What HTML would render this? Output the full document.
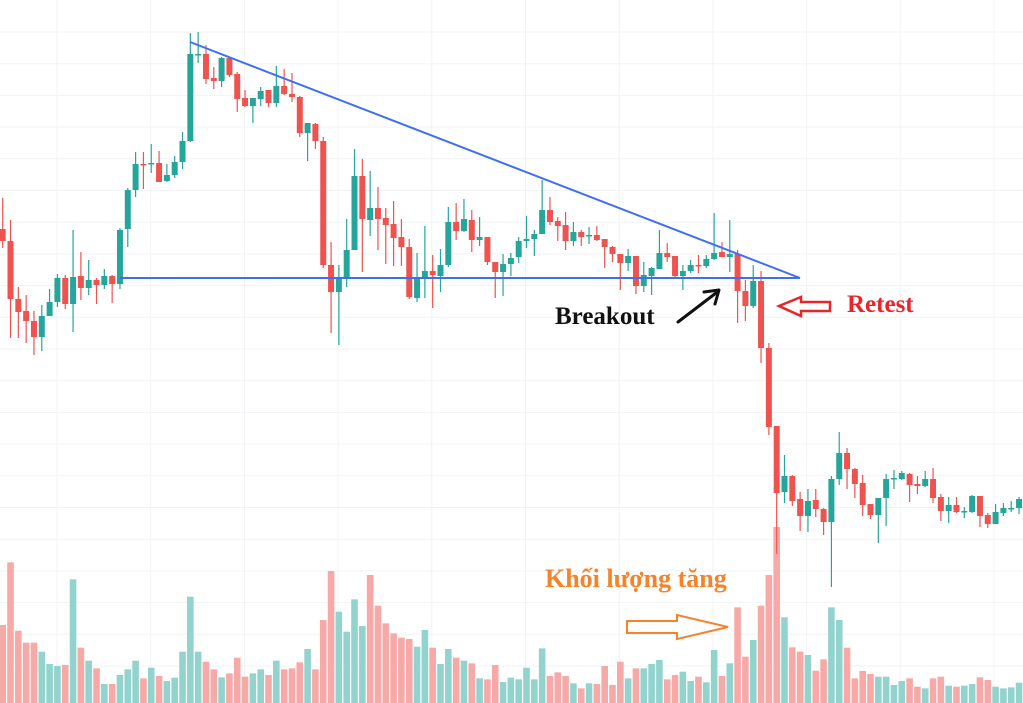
<!DOCTYPE html>
<html><head><meta charset="utf-8"><style>
html,body{margin:0;padding:0;background:#fff;width:1023px;height:703px;overflow:hidden}
svg text{font-family:"Liberation Serif",serif;font-weight:bold}
</style></head><body>
<svg id="s" width="1023" height="703" viewBox="0 0 1023 703" xmlns="http://www.w3.org/2000/svg">
<g id="grid" stroke="#f1f3f6" stroke-width="1"></g>
<g id="vol"></g>
<g id="cs"></g>
<line x1="190" y1="42" x2="800" y2="278" stroke="#3d6ff0" stroke-width="2"/>
<line x1="120" y1="278" x2="800" y2="278" stroke="#3d6ff0" stroke-width="2"/>
<text x="555" y="324" font-size="25" fill="#111">Breakout</text>
<line x1="678" y1="322" x2="716" y2="293" stroke="#111" stroke-width="3" stroke-linecap="round"/>
<polyline points="704,292 719,290 715,304" fill="none" stroke="#111" stroke-width="3" stroke-linecap="round" stroke-linejoin="round"/>
<polygon points="779,306 801,297 801,302 830,302 830,311 801,311 801,316" fill="#fff" stroke="#e8262a" stroke-width="2.5"/>
<text x="847" y="312" font-size="25" fill="#e8262a">Retest</text>
<text x="545" y="587" font-size="26" fill="#f5832a">Khối lượng tăng</text>
<polygon points="627,621 677,621 677,615 728,627 677,639 677,633 627,633" fill="#fff" stroke="#f5832a" stroke-width="2"/>
</svg>
<script>
var C=[[229,241,198,248],[241,299,220,338],[299,312,287,338],[311,321,295,343],[321,337,311,355],[337,316,305,351],[316,302,289,316],[302,278,274,307],[278,304,275,309],[304,277,230,332],[276,288,252,300],[288,280,260,295],[280,285,278,304],[285,276,269,289],[276,284,275,303],[284,230,228,289],[229,190,188,247],[190,164,152,197],[164,165,152,189],[164,163,144,173],[163,182,151,182],[181,175,164,182],[175,162,156,178],[162,141,132,169],[141,54,33,142],[55,54,32,63],[54,79,45,84],[78,81,67,89],[81,58,57,87],[58,75,57,77],[74,99,72,112],[98,106,90,107],[106,98,98,123],[99,91,87,106],[90,103,90,107],[103,86,66,107],[86,94,69,95],[94,97,73,102],[97,133,96,137],[133,123,123,161],[124,141,123,149],[141,265,137,268],[265,292,242,333],[292,277,265,345],[277,250,219,287],[250,176,149,250],[176,219,159,272],[220,208,171,236],[208,219,187,250],[218,225,208,264],[224,238,201,266],[237,247,219,266],[247,297,239,299],[298,278,253,302],[278,271,226,298],[271,275,255,308],[276,265,249,292],[265,222,207,267],[222,231,203,240],[231,219,199,232],[220,240,210,252],[240,237,217,246],[237,262,237,265],[262,272,262,298],[272,264,254,296],[264,258,253,276],[257,241,237,263],[241,239,216,248],[239,234,230,256],[234,210,180,234],[210,222,197,225],[221,226,217,241],[225,241,212,250],[241,232,222,246],[232,237,230,246],[236,235,227,244],[235,240,226,241],[239,247,239,268],[247,254,246,262],[254,263,254,290],[263,256,249,271],[256,286,256,294],[286,275,262,292],[276,268,267,295],[269,253,230,269],[253,257,243,262],[256,276,256,278],[276,271,265,290],[271,265,260,273],[265,266,255,273],[266,259,255,268],[259,253,213,260],[252,257,242,257],[257,254,220,272],[254,291,250,323],[291,306,280,321],[306,281,265,308],[281,348,271,363],[348,427,343,435],[426,493,426,554],[492,476,455,503],[476,501,475,506],[499,516,492,531],[516,501,489,532],[500,509,489,517],[509,522,508,535],[522,479,476,587],[479,453,432,485],[453,469,448,489],[469,484,468,498],[483,505,475,516],[504,515,504,519],[515,498,498,543],[498,479,474,526],[479,478,470,489],[479,473,471,480],[474,485,473,502],[484,486,476,494],[486,479,471,487],[479,498,468,503],[497,511,494,521],[511,505,497,523],[505,512,497,513],[512,511,507,518],[512,496,495,513],[496,516,496,527],[515,524,513,528],[524,512,504,524],[513,508,503,516],[509,508,501,512],[508,499,497,514]];
var V=["R255","R67","R272","R308","R308","G335","G372","G378","R375","G118","R323","G362","R385","G432","R432","G405","G388","G362","R415","G383","R408","G423","G413","G335","G170","G335","R365","R388","G412","R400","R353","R410","G400","G388","R405","G362","R388","R385","R367","G327","R388","R240","R93","G215","G275","G178","G258","R105","R197","R250","R280","R293","R297","G320","G270","R323","G372","G327","R353","G362","R370","G415","R418","R375","G426","G413","G418","G383","G418","G325","R408","R397","R408","G430","R445","G430","R432","R378","R435","R365","G415","R385","G385","G372","G360","R418","R405","G395","G423","R410","G427","G330","R408","G370","R202","R350","G300","R197","R105","R-39","G232","R322","R335","G345","R392","R358","G202","G240","R323","R415","R393","R402","G410","G410","G435","G423","R415","R440","G445","R415","R410","G437","R440","G437","G432","R412","R420","G440","G445","G442","G428"];
var ns="http://www.w3.org/2000/svg";
function el(p,t,a){var e=document.createElementNS(ns,t);for(var k in a)e.setAttribute(k,a[k]);p.appendChild(e);return e;}
var g=document.getElementById('grid');
for(var x=57;x<1023;x+=93.7)el(g,'line',{x1:x,y1:0,x2:x,y2:703});
for(var y=32;y<703;y+=31.7)el(g,'line',{x1:0,y1:y,x2:1023,y2:y});
var sp=7.818,x0=2.7;
var vg=document.getElementById('vol');
V.forEach(function(v,i){var top=540+parseInt(v.slice(1))/3;var cx=x0+i*sp;
el(vg,'rect',{x:cx-3.3,y:top,width:6.6,height:703-top,fill:v[0]=='G'?'#93d3cd':'#f7a9a7'});});
var cg=document.getElementById('cs');
C.forEach(function(c,i){var cx=x0+i*sp;var col=c[1]<c[0]?'#26a69a':'#ef5350';
el(cg,'line',{x1:cx,y1:c[2],x2:cx,y2:c[3],stroke:col,'stroke-width':1.2});
var t=Math.min(c[0],c[1]),b=Math.max(c[0],c[1]);if(b-t<1.5)b=t+1.5;
el(cg,'rect',{x:cx-3,y:t,width:6,height:b-t,fill:col});});
</script>
</body></html>
